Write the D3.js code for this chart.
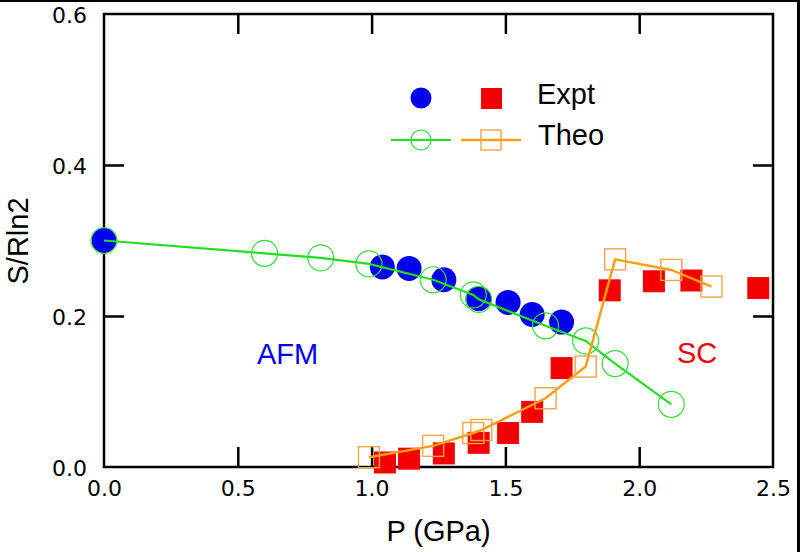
<!DOCTYPE html>
<html><head><meta charset="utf-8">
<script src="https://cdn.jsdelivr.net/npm/d3@7"></script>
<style>html,body{margin:0;padding:0;background:#fff;}svg{display:block;}</style>
</head><body>
<svg id="c" width="800" height="552"></svg>
<script>
// Experimental AFM (blue filled circles)
const exptAFM = [[0,0.300],[1.04,0.265],[1.14,0.263],[1.27,0.248],[1.40,0.223],[1.51,0.218],[1.60,0.202],[1.71,0.192]];
// Experimental SC (red filled squares)
const exptSC = [[1.05,0.006],[1.14,0.011],[1.27,0.018],[1.40,0.032],[1.51,0.045],[1.60,0.073],[1.71,0.131],[1.89,0.234],[2.055,0.246],[2.195,0.247],[2.445,0.237]];
// Theory AFM (green open circles + line)
const theoAFM = [[0,0.300],[0.60,0.283],[0.81,0.277],[0.99,0.269],[1.23,0.248],[1.38,0.228],[1.40,0.222],[1.65,0.187],[1.80,0.167],[1.91,0.137],[2.12,0.083]];
// Theory SC (orange open squares + line)
const theoSC = [[0.99,0.013],[1.23,0.028],[1.38,0.045],[1.41,0.049],[1.65,0.091],[1.80,0.133],[1.91,0.275],[2.12,0.261],[2.27,0.239]];
const xTicks = [0,0.5,1.0,1.5,2.0,2.5];
const yTicks = [0,0.2,0.4,0.6];

const svg = d3.select("#c");
const X0=104, X1=773, Y0=467, Y1=14;
const x = d3.scaleLinear().domain([0,2.5]).range([X0,X1]);
const y = d3.scaleLinear().domain([0,0.6]).range([Y0,Y1]);
const tickFont = "'DejaVu Sans', sans-serif";
const txtFont = "'Liberation Sans', Arial, Helvetica, sans-serif";

// outer border (top & right)
svg.append("line").attr("x1",0).attr("x2",800).attr("y1",1).attr("y2",1).attr("stroke","#000").attr("stroke-width",2);
svg.append("line").attr("x1",798.5).attr("x2",798.5).attr("y1",0).attr("y2",552).attr("stroke","#000").attr("stroke-width",3);

// frame
svg.append("rect").attr("x",X0).attr("y",Y1).attr("width",X1-X0).attr("height",Y0-Y1)
  .attr("fill","none").attr("stroke","#000").attr("stroke-width",2.5);

function styleAxis(g){ g.select(".domain").remove(); g.selectAll("line").attr("stroke","#000").attr("stroke-width",2.5); }
const inner = xTicks.filter(d=>d>0 && d<2.5);
const innerY = yTicks.filter(d=>d>0 && d<0.6);

const gb = svg.append("g").attr("transform",`translate(0,${Y0})`)
  .call(d3.axisBottom(x).tickValues(xTicks).tickSize(0).tickFormat(d3.format(".1f")));
gb.select(".domain").remove();
gb.selectAll("text").attr("y",29).attr("dy",null).attr("font-family",tickFont).attr("font-size",22).attr("fill","#000");
svg.append("g").attr("transform",`translate(0,${Y0})`).call(d3.axisBottom(x).tickValues(inner).tickSize(-20).tickFormat("")).call(styleAxis);
svg.append("g").attr("transform",`translate(0,${Y1})`).call(d3.axisTop(x).tickValues(inner).tickSize(-20).tickFormat("")).call(styleAxis);

const gl = svg.append("g").attr("transform",`translate(${X0},0)`)
  .call(d3.axisLeft(y).tickValues(yTicks).tickSize(0).tickFormat(d3.format(".1f")));
gl.select(".domain").remove();
gl.selectAll("text").attr("x",-17).attr("dy","0.39em").attr("font-family",tickFont).attr("font-size",22).attr("fill","#000");
svg.append("g").attr("transform",`translate(${X0},0)`).call(d3.axisLeft(y).tickValues(innerY).tickSize(-20).tickFormat("")).call(styleAxis);
svg.append("g").attr("transform",`translate(${X1},0)`).call(d3.axisRight(y).tickValues(innerY).tickSize(-20).tickFormat("")).call(styleAxis);

// axis titles
svg.append("text").attr("x",438.5).attr("y",541).attr("text-anchor","middle")
  .attr("font-family",txtFont).attr("font-size",29).text("P (GPa)");
svg.append("text").attr("transform","translate(28,241) rotate(-90)").attr("text-anchor","middle")
  .attr("font-family",txtFont).attr("font-size",29).text("S/Rln2");

const BLUE="#0000ee", RED="#f40000", GREEN="#1ee01e", GREENC="#3ad83a", ORANGE="#ff9d14", ORANGES="#f5a446";

// experimental
svg.append("g").selectAll("circle").data(exptAFM).join("circle")
  .attr("cx",d=>x(d[0])).attr("cy",d=>y(d[1])).attr("r",12.5).attr("fill",BLUE);
svg.append("g").selectAll("rect").data(exptSC).join("rect")
  .attr("x",d=>x(d[0])-11).attr("y",d=>y(d[1])-11).attr("width",22).attr("height",22).attr("fill",RED);

// theory
const line = d3.line().x(d=>x(d[0])).y(d=>y(d[1]));
svg.append("path").datum(theoAFM).attr("d",line).attr("fill","none").attr("stroke",GREEN).attr("stroke-width",2.2);
svg.append("g").selectAll("circle").data(theoAFM).join("circle")
  .attr("cx",d=>x(d[0])).attr("cy",d=>y(d[1])).attr("r",13).attr("fill","none").attr("stroke",GREENC).attr("stroke-width",1.2);
svg.append("path").datum(theoSC).attr("d",line).attr("fill","none").attr("stroke",ORANGE).attr("stroke-width",2.5);
svg.append("g").selectAll("rect").data(theoSC).join("rect")
  .attr("x",d=>x(d[0])-10.5).attr("y",d=>y(d[1])-10.5).attr("width",21).attr("height",21)
  .attr("fill","none").attr("stroke",ORANGES).attr("stroke-width",1.4);

// labels
svg.append("text").attr("x",257).attr("y",364).attr("font-family",txtFont).attr("font-size",29).attr("fill",BLUE).text("AFM");
svg.append("text").attr("x",677).attr("y",363).attr("font-family",txtFont).attr("font-size",29).attr("fill",RED).text("SC");

// legend
const lg = svg.append("g");
lg.append("circle").attr("cx",421).attr("cy",98).attr("r",10.5).attr("fill",BLUE);
lg.append("rect").attr("x",481).attr("y",88).attr("width",21).attr("height",21).attr("fill",RED);
lg.append("line").attr("x1",391).attr("x2",451).attr("y1",140).attr("y2",140).attr("stroke",GREEN).attr("stroke-width",2.2);
lg.append("circle").attr("cx",421).attr("cy",140).attr("r",10).attr("fill","none").attr("stroke",GREENC).attr("stroke-width",1.2);
lg.append("line").attr("x1",461).attr("x2",521).attr("y1",140).attr("y2",140).attr("stroke",ORANGE).attr("stroke-width",2.5);
lg.append("rect").attr("x",481).attr("y",130).attr("width",20).attr("height",20).attr("fill","none").attr("stroke",ORANGES).attr("stroke-width",1.4);
lg.append("text").attr("x",537).attr("y",104).attr("font-family",txtFont).attr("font-size",29).text("Expt");
lg.append("text").attr("x",538).attr("y",145).attr("font-family",txtFont).attr("font-size",29).text("Theo");
</script>
</body></html>
